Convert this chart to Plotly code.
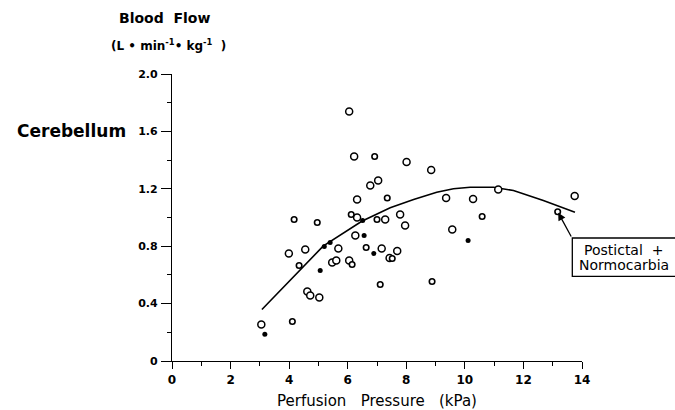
import plotly.graph_objects as go

# Large open circles
open_x = [3.05, 3.99, 4.55, 4.62, 4.72, 5.03, 5.68, 5.47, 5.61, 6.05, 6.05, 6.22, 6.32, 6.32, 6.26,
          6.77, 7.04, 7.16, 7.28, 7.43, 7.69, 7.79, 7.96, 8.01, 8.85, 9.36, 9.57, 10.28, 11.14, 13.75]
open_y = [0.254, 0.749, 0.777, 0.484, 0.456, 0.442, 0.784, 0.686, 0.700, 0.700, 1.739, 1.425, 1.125, 1.000, 0.875,
          1.223, 1.258, 0.784, 0.986, 0.718, 0.767, 1.021, 0.944, 1.387, 1.331, 1.136, 0.916, 1.129, 1.195, 1.150]

# Small open circles
small_x = [4.11, 4.34, 4.96, 6.15, 6.12, 6.63, 7.52, 7.00, 7.11, 8.88, 10.59, 4.17, 6.92, 7.35, 13.17]
small_y = [0.275, 0.665, 0.965, 0.672, 1.021, 0.791, 0.714, 0.986, 0.533, 0.554, 1.007, 0.986, 1.425, 1.136, 1.040]

# Filled circles
filled_x = [3.17, 5.06, 5.20, 5.40, 6.51, 6.56, 6.89, 10.11]
filled_y = [0.187, 0.631, 0.798, 0.826, 0.979, 0.875, 0.749, 0.840]

# Fitted curve
curve_x = [3.07, 5.16, 6.48, 7.45, 8.25, 9.04, 9.61, 10.18, 10.98, 11.66, 12.68, 13.76]
curve_y = [0.359, 0.80, 0.974, 1.068, 1.125, 1.176, 1.20, 1.211, 1.211, 1.188, 1.118, 1.037]

y_ticks = [0, 0.4, 0.8, 1.2, 1.6, 2.0]
y_ticktext = ["0", "0.4", "0.8", "1.2", "1.6", "2.0"]
x_ticks = [0, 2, 4, 6, 8, 10, 12, 14]

FONT = "DejaVu Sans"

fig = go.Figure()
fig.add_trace(go.Scatter(x=curve_x, y=curve_y, mode="lines",
                         line=dict(color="black", width=1.6), hoverinfo="skip"))
fig.add_trace(go.Scatter(x=open_x, y=open_y, mode="markers",
                         marker=dict(symbol="circle", size=7, color="white",
                                     line=dict(color="black", width=1.5))))
fig.add_trace(go.Scatter(x=small_x, y=small_y, mode="markers",
                         marker=dict(symbol="circle", size=5.5, color="white",
                                     line=dict(color="black", width=1.6))))
fig.add_trace(go.Scatter(x=filled_x, y=filled_y, mode="markers",
                         marker=dict(symbol="circle", size=5, color="black",
                                     line=dict(color="black", width=0))))

fig.update_layout(
    width=675, height=410,
    margin=dict(l=171.7, r=93, t=74, b=48.5),
    paper_bgcolor="white", plot_bgcolor="white",
    showlegend=False,
    font=dict(family=FONT, color="black"),
    xaxis=dict(range=[0, 14], tickvals=x_ticks, ticktext=[f"<b>{v}</b>" for v in x_ticks],
               automargin=False,
               showgrid=False, zeroline=False, showline=True, linecolor="black", linewidth=1.3,
               ticks="outside", ticklen=7, tickwidth=1.3, tickcolor="black",
               tickfont=dict(size=12, family=FONT, color="black"),
               minor=dict(dtick=1, tick0=0, ticks="outside", ticklen=4, tickwidth=1.2, tickcolor="black"),
               title=dict(text="Perfusion   Pressure   (kPa)", font=dict(size=15, family=FONT), standoff=10)),
    yaxis=dict(range=[0, 2.0], tickvals=y_ticks, ticktext=[f"<b>{t}</b>" for t in y_ticktext],
               automargin=False,
               showgrid=False, zeroline=False, showline=True, linecolor="black", linewidth=1.3,
               ticks="outside", ticklen=10, tickwidth=1.3, tickcolor="black",
               ticklabelstandoff=1,
               tickfont=dict(size=11, family=FONT, color="black"),
               minor=dict(dtick=0.2, tick0=0, ticks="outside", ticklen=4, tickwidth=1.2, tickcolor="black")),
)

def px(xp):
    return (xp - 171.7) / 410.3

def py(yp):
    return (361.5 - yp) / 287.5

fig.add_annotation(x=px(164.5), y=py(18), xref="paper", yref="paper", showarrow=False,
                   xanchor="center", yanchor="middle",
                   text="<b>Blood  Flow</b>", font=dict(size=14, family=FONT))
fig.add_annotation(x=px(168), y=py(45), xref="paper", yref="paper", showarrow=False,
                   xanchor="center", yanchor="middle",
                   text="<b>(L • min<sup>-1</sup>• kg<sup>-1</sup>  )</b>", font=dict(size=12, family=FONT))
fig.add_annotation(x=px(71.5), y=py(131), xref="paper", yref="paper", showarrow=False,
                   xanchor="center", yanchor="middle",
                   text="<b>Cerebellum</b>", font=dict(size=17, family=FONT))

# Box with label
fig.add_shape(type="rect", xref="paper", yref="paper",
              x0=px(572.3), x1=px(690), y0=py(276.7), y1=py(238.3),
              line=dict(color="black", width=1.3), fillcolor="white")
fig.add_annotation(x=px(582), y=py(250), xref="paper", yref="paper", showarrow=False,
                   xanchor="left", yanchor="middle", text="Postictal  +", font=dict(size=14, family=FONT))
fig.add_annotation(x=px(577), y=py(265), xref="paper", yref="paper", showarrow=False,
                   xanchor="left", yanchor="middle", text="Normocarbia", font=dict(size=14, family=FONT))
# Arrow from box to point
fig.add_annotation(x=13.17, y=1.04, xref="x", yref="y", text="", showarrow=True,
                   ax=572 - 557.7, ay=238.5 - 212.3, arrowhead=2, arrowsize=1.2,
                   arrowwidth=1.3, arrowcolor="black", standoff=1)

fig.write_html("out.html", config={"displayModeBar": False},
               post_script="document.body.style.margin='0';document.body.style.overflow='hidden';")
